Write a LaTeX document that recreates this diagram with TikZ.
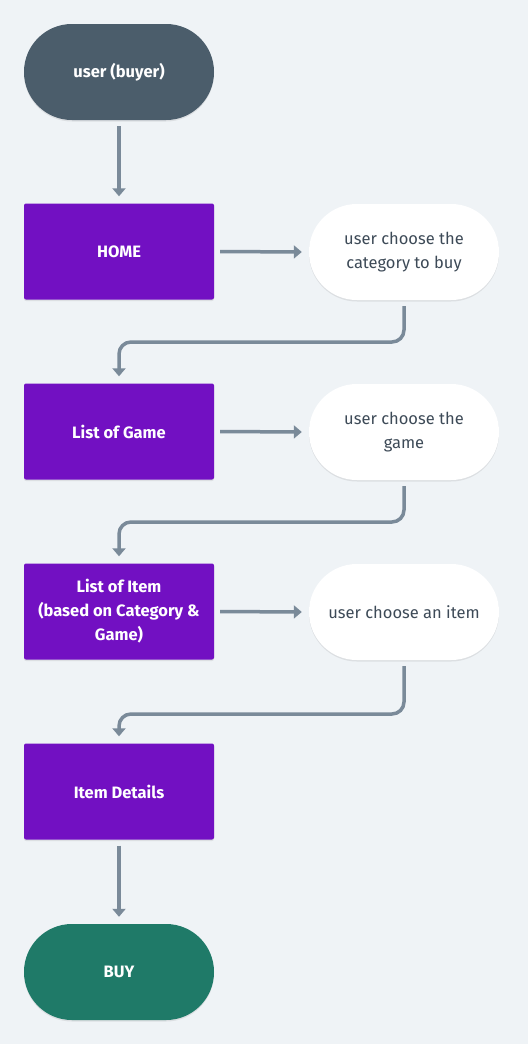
\documentclass[tikz,border=0pt]{standalone}
\usepackage{fontspec}
\setmainfont{Fira Sans}
\usetikzlibrary{arrows.meta,shadows}
\definecolor{bg}{HTML}{EFF3F6}
\definecolor{startc}{HTML}{4B5D6B}
\definecolor{boxc}{HTML}{7210C2}
\definecolor{endc}{HTML}{1F7A68}
\definecolor{linec}{HTML}{7A8A99}
\definecolor{txtc}{HTML}{3D4A57}
\begin{document}
\begin{tikzpicture}[x=1pt,y=-1pt,
  base/.style={inner sep=0pt, minimum width=190pt, minimum height=96pt, align=center,
    font=\fontsize{16.5}{24}\selectfont,
    drop shadow={shadow xshift=0pt,shadow yshift=-1.5pt,opacity=0.08,fill=black}},
  stadium/.style={base, rounded corners=47.9pt},
  startnode/.style={stadium, fill=startc, text=white, font=\fontsize{16.5}{24}\selectfont\bfseries},
  endnode/.style={stadium, fill=endc, text=white, font=\fontsize{16.5}{24}\selectfont\bfseries},
  boxnode/.style={base, rounded corners=2pt, fill=boxc, text=white, font=\fontsize{16.5}{24}\selectfont\bfseries},
  choice/.style={stadium, fill=white, text=txtc},
  conn/.style={draw=linec, line width=3.5pt, rounded corners=12pt,
    -{Triangle[length=8pt,width=13pt]}}
]
\fill[bg] (0,0) rectangle (528,1044);
\useasboundingbox (0,0) rectangle (528,1044);

\node[startnode] (user) at (119,72) {user (buyer)};
\node[boxnode] (home) at (119,251.5) {HOME};
\node[choice] (w1) at (404,252) {user choose the\\category to buy};
\node[boxnode] (lg) at (119,431.5) {List of Game};
\node[choice] (w2) at (404,432) {user choose the\\game};
\node[boxnode] (li) at (119,611.5) {List of Item\\(based on Category \&\\Game)};
\node[choice] (w3) at (404,612) {user choose an item};
\node[boxnode] (det) at (119,791.5) {Item Details};
\node[endnode] (buy) at (119,972) {BUY};

\draw[conn] ([yshift=-6pt]user.south) -- ([yshift=7pt]home.north);
\draw[conn] ([xshift=6pt]home.east) -- ([xshift=-7pt]w1.west);
\draw[conn] ([yshift=-6pt]w1.south) -- ([yshift=-6pt]w1.south |- 0,336) -| ([yshift=7pt]lg.north);
\draw[conn] ([xshift=6pt]lg.east) -- ([xshift=-7pt]w2.west);
\draw[conn] ([yshift=-6pt]w2.south) -- ([yshift=-6pt]w2.south |- 0,516) -| ([yshift=7pt]li.north);
\draw[conn] ([xshift=6pt]li.east) -- ([xshift=-7pt]w3.west);
\draw[conn] ([yshift=-6pt]w3.south) -- ([yshift=-6pt]w3.south |- 0,708) -| ([yshift=7pt]det.north);
\draw[conn] ([yshift=-6pt]det.south) -- ([yshift=7pt]buy.north);
\end{tikzpicture}
\end{document}
